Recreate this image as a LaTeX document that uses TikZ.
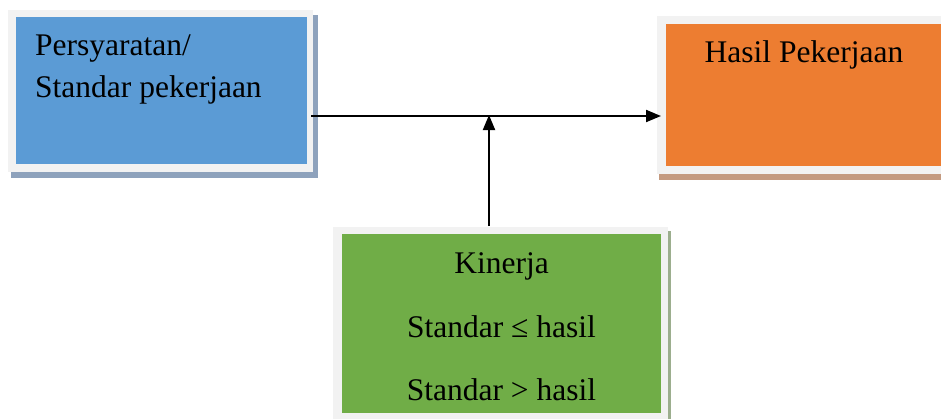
\documentclass[tikz,border=0pt]{standalone}
\usepackage{fontspec}
\setmainfont{Liberation Serif}
\usetikzlibrary{arrows.meta}
\definecolor{framegray}{HTML}{F2F2F2}
\definecolor{reqblue}{HTML}{5B9BD5}
\definecolor{reqshadow}{HTML}{8EA2BC}
\definecolor{resorange}{HTML}{ED7D31}
\definecolor{resshadow}{HTML}{C49A80}
\definecolor{perfgreen}{HTML}{70AD47}
\definecolor{perfshadow}{HTML}{9CAE8E}
\tikzset{
  frame/.style={fill=framegray, draw=none, inner sep=0pt, outer sep=0pt},
  shadowbox/.style={draw=none},
  lbl/.style={font=\fontsize{31.5}{40}\selectfont, inner sep=0pt},
  conn/.style={line width=2pt, -{Triangle[length=15pt,width=12pt]}}
}
\begin{document}
\begin{tikzpicture}[x=1pt,y=-1pt]
\useasboundingbox (0,0) rectangle (941,418);
% requirement box: shadow, light frame, blue face
\fill[reqshadow] (11,15) rectangle (318,178);
\node[frame, minimum width=305pt, minimum height=162pt] (req) at (160.5,91) {};
\fill[reqblue] (16,17) rectangle (307,164);
\node[lbl, anchor=base west] (reqA) at (35,55) {Persyaratan/};
\node[lbl, anchor=base west] (reqB) at (35,97) {Standar pekerjaan};
% result box
\fill[resshadow] (659,20) rectangle (945,180);
\node[frame, minimum width=288pt, minimum height=158pt] (res) at (801,95) {};
\fill[resorange] (666,24) rectangle (945,166);
\node[lbl, anchor=base] (resA) at (804,62) {Hasil Pekerjaan};
% performance box
\fill[perfshadow] (336,231) rectangle (671,425);
\node[frame, minimum width=335pt, minimum height=198pt] (perf) at (500.5,326) {};
\fill[perfgreen] (342,234) rectangle (661,413);
\node[lbl, anchor=base] (perfA) at (501.5,273) {Kinerja};
\node[lbl, anchor=base] (perfB) at (501.5,337) {Standar ≤ hasil};
\node[lbl, anchor=base] (perfC) at (501.5,400) {Standar > hasil};
% connectors
\coordinate (j) at (489,116);
\draw[conn] ([xshift=-2pt]req.east |- j) -- ([xshift=4pt]res.west |- j);
\draw[conn] ([yshift=1pt]perf.north -| j) -- ([yshift=1pt]j);
\end{tikzpicture}
\end{document}
